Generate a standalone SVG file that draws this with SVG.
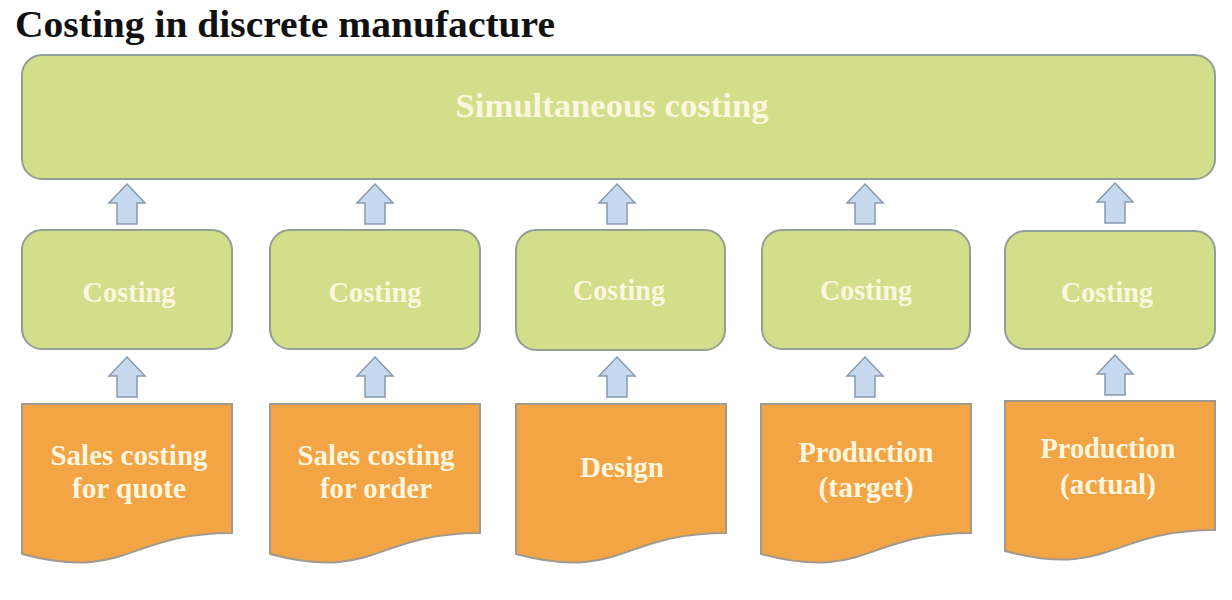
<svg xmlns="http://www.w3.org/2000/svg" width="1232" height="600" viewBox="0 0 1232 600">
<defs>
<style>
.title{font-family:"Liberation Serif","Times New Roman",serif;font-weight:bold;font-size:37px;fill:#111}
.lbl{font-family:"Liberation Serif","Times New Roman",serif;font-weight:bold;fill:#fcf6df;text-anchor:middle}
.g{fill:#d2de8a;stroke:#939e94;stroke-width:2}
.doc{fill:#f3a445;stroke:#a09a90;stroke-width:2}
.arr{fill:#c6d9ef;stroke:#8999ad;stroke-width:1.5}
</style>
<path id="up" d="M0,0 L18,19 L10,19 L10,40 L-10,40 L-10,19 L-18,19 Z"/>
<path id="docshape" d="M0,0 H210 V129 C105,129 105,178 0,150 Z"/>
</defs>
<rect width="1232" height="600" fill="#ffffff"/>
<text class="title" x="15" y="37" textLength="540" lengthAdjust="spacingAndGlyphs">Costing in discrete manufacture</text>

<g id="simultaneous">
<rect class="g" x="22" y="55" width="1193" height="124" rx="20"/>
<text class="lbl" x="612" y="117" font-size="33" textLength="313" lengthAdjust="spacingAndGlyphs">Simultaneous costing</text>
</g>

<g id="costing1"><rect class="g" x="22" y="230" width="210" height="119" rx="20"/><text class="lbl" x="129" y="302" font-size="29" textLength="93" lengthAdjust="spacingAndGlyphs">Costing</text></g>
<g id="costing2"><rect class="g" x="270" y="230" width="210" height="119" rx="20"/><text class="lbl" x="375" y="302" font-size="29" textLength="93" lengthAdjust="spacingAndGlyphs">Costing</text></g>
<g id="costing3"><rect class="g" x="516" y="230" width="209" height="120" rx="20"/><text class="lbl" x="619" y="300" font-size="29" textLength="92" lengthAdjust="spacingAndGlyphs">Costing</text></g>
<g id="costing4"><rect class="g" x="762" y="230" width="208" height="119" rx="20"/><text class="lbl" x="866" y="300" font-size="29" textLength="92" lengthAdjust="spacingAndGlyphs">Costing</text></g>
<g id="costing5"><rect class="g" x="1005" y="231" width="210" height="118" rx="20"/><text class="lbl" x="1107" y="302" font-size="29" textLength="92" lengthAdjust="spacingAndGlyphs">Costing</text></g>

<g id="doc1"><use href="#docshape" class="doc" x="22" y="404"/>
<text class="lbl" font-size="30"><tspan x="129" y="465" textLength="157" lengthAdjust="spacingAndGlyphs">Sales costing</tspan><tspan x="129" y="498" textLength="114" lengthAdjust="spacingAndGlyphs">for quote</tspan></text></g>
<g id="doc2"><use href="#docshape" class="doc" x="270" y="404"/>
<text class="lbl" font-size="30"><tspan x="376" y="465" textLength="157" lengthAdjust="spacingAndGlyphs">Sales costing</tspan><tspan x="376" y="498" textLength="112" lengthAdjust="spacingAndGlyphs">for order</tspan></text></g>
<g id="doc3"><use href="#docshape" class="doc" x="516" y="404"/>
<text class="lbl" font-size="30" x="622" y="477" textLength="84" lengthAdjust="spacingAndGlyphs">Design</text></g>
<g id="doc4"><use href="#docshape" class="doc" x="761" y="404"/>
<text class="lbl" font-size="30"><tspan x="866" y="462" textLength="135" lengthAdjust="spacingAndGlyphs">Production</tspan><tspan x="866" y="497" textLength="95" lengthAdjust="spacingAndGlyphs">(target)</tspan></text></g>
<g id="doc5"><use href="#docshape" class="doc" x="1005" y="401"/>
<text class="lbl" font-size="30"><tspan x="1108" y="458" textLength="135" lengthAdjust="spacingAndGlyphs">Production</tspan><tspan x="1108" y="494" textLength="96" lengthAdjust="spacingAndGlyphs">(actual)</tspan></text></g>

<g id="connectors">
<use href="#up" class="arr" x="127" y="184"/>
<use href="#up" class="arr" x="375" y="184"/>
<use href="#up" class="arr" x="617" y="184"/>
<use href="#up" class="arr" x="865" y="184"/>
<use href="#up" class="arr" x="1115" y="183"/>
<use href="#up" class="arr" x="127" y="357"/>
<use href="#up" class="arr" x="375" y="357"/>
<use href="#up" class="arr" x="617" y="357"/>
<use href="#up" class="arr" x="865" y="357"/>
<use href="#up" class="arr" x="1115" y="355"/>
</g>
</svg>
